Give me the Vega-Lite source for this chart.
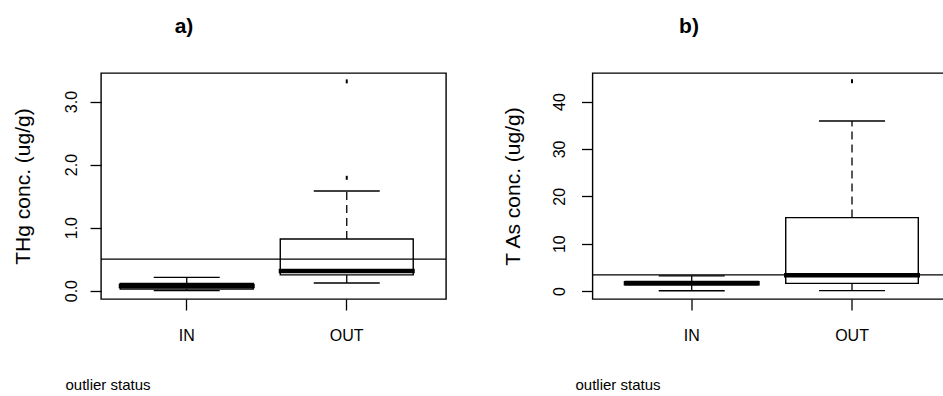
{
  "$schema": "https://vega.github.io/schema/vega-lite/v6.json",
  "autosize": {"type": "pad"},
  "padding": {"left": 11, "top": 15, "right": 0, "bottom": 0},
  "background": "white",
  "datasets": {
    "thg": [
      {"status": "IN", "lower": 0.0, "q1": 0.025, "median": 0.075, "q3": 0.115, "upper": 0.21},
      {"status": "OUT", "lower": 0.12, "q1": 0.25, "median": 0.31, "q3": 0.82, "upper": 1.58}
    ],
    "thg_out": [
      {"status": "OUT", "value": 1.79},
      {"status": "OUT", "value": 3.32}
    ],
    "thg_line": [{"threshold": 0.5}],
    "tas": [
      {"status": "IN", "lower": 0.05, "q1": 1.3, "median": 1.65, "q3": 2.0, "upper": 3.2},
      {"status": "OUT", "lower": 0.08, "q1": 1.6, "median": 3.3, "q3": 15.5, "upper": 35.9}
    ],
    "tas_out": [
      {"status": "OUT", "value": 44.3}
    ],
    "tas_line": [{"threshold": 3.4}]
  },
  "spacing": 146.5,
  "bounds": "flush",
  "hconcat": [
    {
      "width": 345,
      "height": 226,
      "title": {"text": "a)", "anchor": "start", "frame": "group", "align": "center", "dx": 83, "offset": 36, "font": "Liberation Sans, Arial, sans-serif", "fontSize": 21, "fontWeight": "bold", "color": "black"},
      "layer": [
        {
          "data": {"name": "thg"},
          "mark": {"type": "rule", "strokeDash": [8, 5], "strokeWidth": 1.3, "color": "black"},
          "encoding": {
            "x": {"field": "status", "type": "nominal", "sort": ["IN", "OUT"],
                  "scale": {"paddingInner": 0.169, "paddingOuter": 0.1625, "align": 0.37},
                  "axis": {"title": "outlier status", "labelAngle": 0, "titleX": -36, "titleY": 90, "titleAlign": "left", "titleBaseline": "alphabetic", "titleAnchor": null}},
            "y": {"field": "q3", "type": "quantitative", "scale": {"domain": [-0.133, 3.453], "nice": false, "zero": false},
                  "axis": {"title": "THg conc. (ug/g)", "values": [0, 0.5, 1, 1.5, 2, 2.5, 3],
                           "labelExpr": "datum.value % 1 == 0 ? format(datum.value, '.1f') : ''",
                           "titleX": -78}},
            "y2": {"field": "upper"}
          }
        },
        {
          "data": {"name": "thg"},
          "mark": {"type": "rule", "strokeDash": [8, 5], "strokeWidth": 1.3, "color": "black"},
          "encoding": {
            "x": {"field": "status", "type": "nominal", "sort": ["IN", "OUT"]},
            "y": {"field": "lower", "type": "quantitative"},
            "y2": {"field": "q1"}
          }
        },
        {
          "data": {"name": "thg"},
          "mark": {"type": "tick", "size": 66, "thickness": 1.4, "color": "black", "opacity": 1},
          "encoding": {
            "x": {"field": "status", "type": "nominal", "sort": ["IN", "OUT"]},
            "y": {"field": "upper", "type": "quantitative"}
          }
        },
        {
          "data": {"name": "thg"},
          "mark": {"type": "tick", "size": 66, "thickness": 1.4, "color": "black", "opacity": 1},
          "encoding": {
            "x": {"field": "status", "type": "nominal", "sort": ["IN", "OUT"]},
            "y": {"field": "lower", "type": "quantitative"}
          }
        },
        {
          "data": {"name": "thg"},
          "mark": {"type": "bar", "fill": "white", "stroke": "black", "strokeWidth": 1.4},
          "encoding": {
            "x": {"field": "status", "type": "nominal", "sort": ["IN", "OUT"]},
            "y": {"field": "q1", "type": "quantitative"},
            "y2": {"field": "q3"}
          }
        },
        {
          "data": {"name": "thg"},
          "mark": {"type": "tick", "size": 136, "thickness": 4.5, "color": "black", "opacity": 1},
          "encoding": {
            "x": {"field": "status", "type": "nominal", "sort": ["IN", "OUT"]},
            "y": {"field": "median", "type": "quantitative"}
          }
        },
        {
          "data": {"name": "thg_out"},
          "mark": {"type": "tick", "orient": "vertical", "size": 4, "thickness": 2, "color": "black", "opacity": 1},
          "encoding": {
            "x": {"field": "status", "type": "nominal", "sort": ["IN", "OUT"]},
            "y": {"field": "value", "type": "quantitative"}
          }
        },
        {
          "data": {"name": "thg_line"},
          "mark": {"type": "rule", "color": "black", "strokeWidth": 1.3},
          "encoding": {"y": {"field": "threshold", "type": "quantitative"}}
        }
      ]
    },
    {
      "width": 380,
      "height": 226,
      "title": {"text": "b)", "anchor": "start", "frame": "group", "align": "center", "dx": 96.5, "offset": 36, "font": "Liberation Sans, Arial, sans-serif", "fontSize": 21, "fontWeight": "bold", "color": "black"},
      "layer": [
        {
          "data": {"name": "tas"},
          "mark": {"type": "rule", "strokeDash": [8, 5], "strokeWidth": 1.3, "color": "black"},
          "encoding": {
            "x": {"field": "status", "type": "nominal", "sort": ["IN", "OUT"],
                  "scale": {"paddingInner": 0.173, "paddingOuter": 0.2718, "align": 0.378},
                  "axis": {"title": "outlier status", "labelAngle": 0, "titleX": -17.5, "titleY": 90, "titleAlign": "left", "titleBaseline": "alphabetic", "titleAnchor": null}},
            "y": {"field": "q3", "type": "quantitative", "scale": {"domain": [-1.69, 46.03], "nice": false, "zero": false},
                  "axis": {"title": "T As conc. (ug/g)", "values": [0, 10, 20, 30, 40], "format": "d", "titleX": -79.5, "labelPadding": 14}},
            "y2": {"field": "upper"}
          }
        },
        {
          "data": {"name": "tas"},
          "mark": {"type": "rule", "strokeDash": [8, 5], "strokeWidth": 1.3, "color": "black"},
          "encoding": {
            "x": {"field": "status", "type": "nominal", "sort": ["IN", "OUT"]},
            "y": {"field": "lower", "type": "quantitative"},
            "y2": {"field": "q1"}
          }
        },
        {
          "data": {"name": "tas"},
          "mark": {"type": "tick", "size": 66, "thickness": 1.4, "color": "black", "opacity": 1},
          "encoding": {
            "x": {"field": "status", "type": "nominal", "sort": ["IN", "OUT"]},
            "y": {"field": "upper", "type": "quantitative"}
          }
        },
        {
          "data": {"name": "tas"},
          "mark": {"type": "tick", "size": 66, "thickness": 1.4, "color": "black", "opacity": 1},
          "encoding": {
            "x": {"field": "status", "type": "nominal", "sort": ["IN", "OUT"]},
            "y": {"field": "lower", "type": "quantitative"}
          }
        },
        {
          "data": {"name": "tas"},
          "mark": {"type": "bar", "fill": "white", "stroke": "black", "strokeWidth": 1.4},
          "encoding": {
            "x": {"field": "status", "type": "nominal", "sort": ["IN", "OUT"]},
            "y": {"field": "q1", "type": "quantitative"},
            "y2": {"field": "q3"}
          }
        },
        {
          "data": {"name": "tas"},
          "mark": {"type": "tick", "size": 136, "thickness": 4.5, "color": "black", "opacity": 1},
          "encoding": {
            "x": {"field": "status", "type": "nominal", "sort": ["IN", "OUT"]},
            "y": {"field": "median", "type": "quantitative"}
          }
        },
        {
          "data": {"name": "tas_out"},
          "mark": {"type": "tick", "orient": "vertical", "size": 4, "thickness": 2, "color": "black", "opacity": 1},
          "encoding": {
            "x": {"field": "status", "type": "nominal", "sort": ["IN", "OUT"]},
            "y": {"field": "value", "type": "quantitative"}
          }
        },
        {
          "data": {"name": "tas_line"},
          "mark": {"type": "rule", "color": "black", "strokeWidth": 1.3},
          "encoding": {"y": {"field": "threshold", "type": "quantitative"}}
        }
      ]
    }
  ],
  "config": {
    "view": {"stroke": "black", "strokeWidth": 1.4},
    "axis": {
      "domain": false, "grid": false,
      "tickColor": "black", "tickWidth": 1.3, "tickSize": 11,
      "labelColor": "black", "titleColor": "black",
      "labelFont": "Liberation Sans, Arial, sans-serif", "titleFont": "Liberation Sans, Arial, sans-serif",
      "titleFontWeight": "normal"
    },
    "axisY": {
      "labelAngle": 270, "labelAlign": "center", "labelBaseline": "bottom",
      "labelFontSize": 16, "labelPadding": 11,
      "titleFontSize": 21, "titleBaseline": "middle"
    },
    "axisX": {
      "labelFontSize": 16, "titleFontSize": 15, "labelPadding": 17
    }
  }
}
